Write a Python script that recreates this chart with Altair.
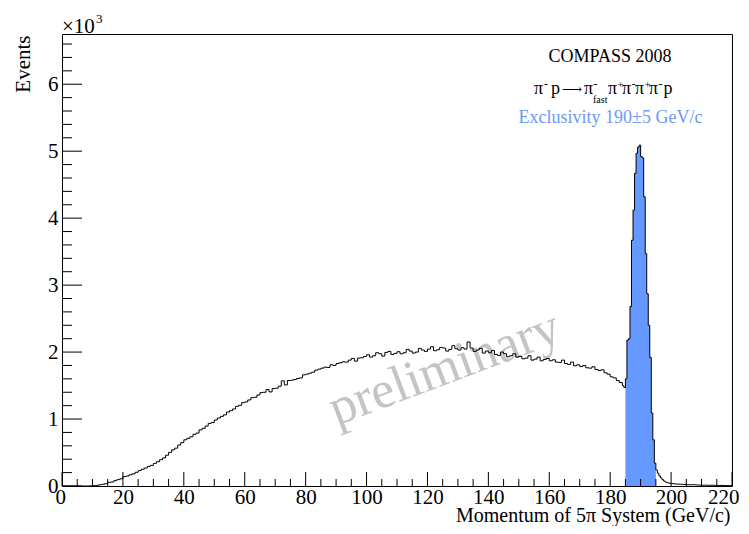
import altair as alt
import numpy as np
import pandas as pd

# ---- data ----
# 1 GeV bins, 0 .. 183
counts_low = [
    0, 0, 0, 0, 0, 0, 0, 0, 0, 2,
    5, 10, 18, 25, 35, 55, 60, 80, 95, 108,
    140, 148, 168, 182, 205, 230, 250, 268, 292, 308,
    338, 362, 392, 418, 460, 502, 540, 565, 612, 648,
    690, 712, 735, 772, 790, 838, 860, 895, 935, 948,
    985, 1015, 1040, 1062, 1105, 1125, 1150, 1190, 1205, 1245,
    1255, 1285, 1320, 1325, 1360, 1395, 1400, 1440, 1405, 1455,
    1460, 1490, 1570, 1510, 1575, 1580, 1590, 1605, 1615, 1660,
    1670, 1685, 1700, 1730, 1745, 1760, 1775, 1770, 1810, 1800,
    1830, 1840, 1855, 1850, 1880, 1905, 1865, 1910, 1915, 1935,
    1960, 1925, 1945, 1990, 1975, 1940, 1995, 2010, 1965, 1980,
    2005, 1975, 1990, 2040, 2015, 1985, 2000, 2055, 2030, 2010,
    2045, 2080, 2020, 2035, 2070, 2060, 2015, 2040, 2095, 2050,
    2030, 2065, 2045, 2150, 2060, 2010, 2030, 2055, 1985, 2015,
    1990, 2025, 1965, 1950, 2000, 1975, 1930, 1945, 1975, 1925,
    1935, 1900, 1910, 1945, 1880, 1895, 1925, 1870, 1890, 1905,
    1870, 1885, 1850, 1845, 1880, 1830, 1815, 1850, 1795, 1810,
    1785, 1800, 1765, 1760, 1780, 1740, 1725, 1735, 1690, 1670,
    1630, 1615, 1575, 1545,
]
# 0.5 GeV bins, 184.0 .. 199.5
counts_peak = [
    1500, 1470, 1600, 2180, 2200, 2680, 3670, 4120, 4670, 4970,
    5060, 5090, 4920, 4900, 4320, 3470, 2870, 2400, 1920, 1090,
    690, 340, 240, 190, 150, 120, 95, 75, 60, 50,
    45, 40,
]
# 1 GeV bins, 200 .. 219
counts_high = [35, 30, 28, 25, 22, 20, 18, 20, 15, 14,
               12, 13, 10, 12, 9, 8, 10, 7, 6, 5]

excl_lo, excl_hi = 185, 195          # exclusivity window 190 +- 5 GeV/c
x_labels = list(range(0, 221, 20))
x_minor = [v for v in range(0, 221, 5) if v % 20]
y_major = list(range(0, 6001, 1000))
y_minor = [v for v in range(0, 6700, 200) if v % 1000]

edges = list(range(0, 184)) + list(np.arange(184, 200, 0.5)) + list(range(200, 220))
counts = counts_low + counts_peak + counts_high
hist = pd.DataFrame({"p": edges + [220], "n": counts + [counts[-1]]})
excl = hist[(hist.p >= excl_lo) & (hist.p < excl_hi)]
last = float(excl.n.iloc[-1])
excl = pd.concat([excl, pd.DataFrame({"p": [excl_hi], "n": [last]})], ignore_index=True)

W, H = 670, 452
SERIF = "Liberation Serif"
xs = alt.Scale(domain=[0, 220], nice=False, zero=False)
ys = alt.Scale(domain=[0, 6750], nice=False)

x_axis = alt.Axis(values=x_labels, ticks=False, domain=False, grid=False,
                  labelFont=SERIF, labelFontSize=21, labelColor="black",
                  labelFlush=True, labelFlushOffset=7, labelPadding=0,
                  title="Momentum of 5\u03c0 System (GeV/c)", titleFont=SERIF,
                  titleFontSize=20, titleFontWeight="normal", titleColor="black",
                  titleAnchor="end", titleAlign="right", titleX=W - 2, titleY=35,
                  titleBaseline="alphabetic")
y_axis = alt.Axis(values=y_major, ticks=False, domain=False, grid=False,
                  labelExpr="datum.value / 1000", labelFont=SERIF,
                  labelFontSize=21, labelColor="black", labelFlush=False,
                  labelPadding=4,
                  title="Events", titleFont=SERIF, titleFontSize=21,
                  titleFontWeight="normal", titleColor="black", titleAngle=270,
                  titleAlign="right", titleBaseline="bottom", titleX=-29, titleY=1)

watermark = alt.Chart(pd.DataFrame({"t": ["preliminary"]})).mark_text(
    font=SERIF, fontSize=52, color="#c4c4c4", angle=339.4,
    align="center", baseline="alphabetic"
).encode(x=alt.value(388), y=alt.value(349), text="t:N")

area = alt.Chart(excl).mark_area(interpolate="step-after", color="#6699ff",
                                 opacity=1).encode(
    x=alt.X("p:Q", scale=xs, axis=x_axis),
    y=alt.Y("n:Q", scale=ys, axis=y_axis),
)

line = alt.Chart(hist).mark_line(interpolate="step-after", color="black",
                                 strokeWidth=1).encode(
    x=alt.X("p:Q", scale=xs, axis=x_axis),
    y=alt.Y("n:Q", scale=ys, axis=y_axis),
)


def xticks(vals, length):
    return alt.Chart(pd.DataFrame({"p": vals})).mark_rule(
        color="black", strokeWidth=1).encode(
        x=alt.X("p:Q", scale=xs, axis=x_axis),
        y=alt.value(H), y2=alt.value(H - length))


def yticks(vals, length):
    return alt.Chart(pd.DataFrame({"n": vals})).mark_rule(
        color="black", strokeWidth=1).encode(
        y=alt.Y("n:Q", scale=ys, axis=y_axis),
        x=alt.value(0), x2=alt.value(length))


def label(text, x, y, size=18, color="black", align="left",
          baseline="alphabetic", font=SERIF):
    return alt.Chart(pd.DataFrame({"t": [text]})).mark_text(
        font=font, fontSize=size, color=color, align=align, baseline=baseline
    ).encode(x=alt.value(x), y=alt.value(y), text="t:N")


texts = [
    label("\u00d710", 0, -1, size=21),
    label("3", 34, -11, size=13),
    label("COMPASS 2008", 548, 28, align="center"),
    label("\u03c0", 472, 60),
    label("-", 482, 54, size=12),
    label("p", 489, 60),
    label("\u27f6", 500, 60, size=14, font="DejaVu Serif"),
    label("\u03c0", 522, 60),
    label("-", 531.5, 54, size=12),
    label("fast", 531, 69, size=10),
    label("\u03c0", 546, 60),
    label("+", 555.5, 54, size=11),
    label("\u03c0", 560, 60),
    label("-", 569.5, 54, size=12),
    label("\u03c0", 573, 60),
    label("+", 582.5, 54, size=11),
    label("\u03c0", 587, 60),
    label("-", 596.5, 54, size=12),
    label("p", 601.5, 60),
    label("Exclusivity 190\u00b15 GeV/c", 548.5, 89, color="#6b9af5", align="center"),
]

chart = alt.layer(
    watermark, area, line,
    xticks(x_labels, 14), xticks(x_minor, 7),
    yticks(y_major, 20), yticks(y_minor, 10),
    *texts,
).properties(
    width=W, height=H,
    autosize=alt.AutoSizeParams(type="none"),
    padding={"left": 54, "top": 26, "right": 9, "bottom": 40},
    background="white",
).configure_view(stroke="black", strokeWidth=1)

chart.save("out.html", embed_options={"renderer": "svg", "actions": False})
